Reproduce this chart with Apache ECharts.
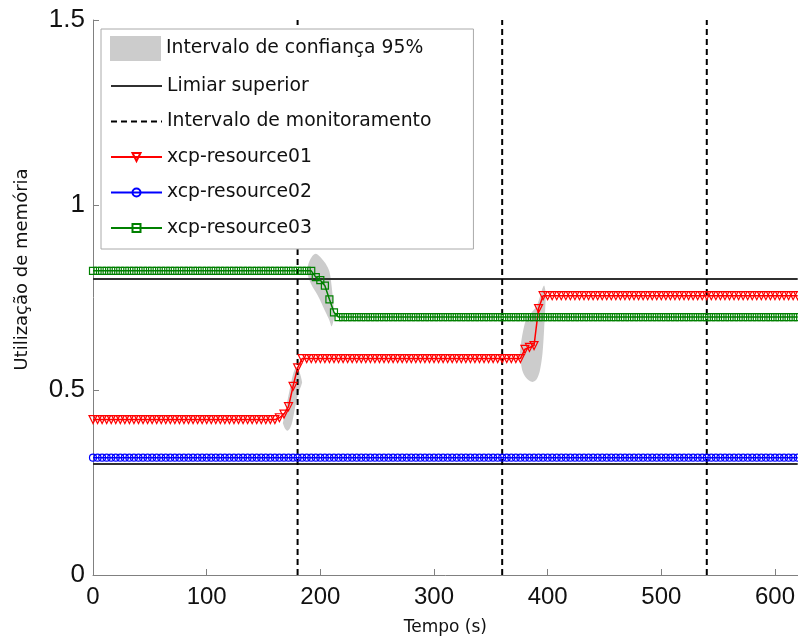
<!DOCTYPE html>
<html><head><meta charset="utf-8">
<script src="https://cdn.jsdelivr.net/npm/echarts@6/dist/echarts.min.js"></script>
<style>html,body{margin:0;padding:0;background:#fff}#c{width:798px;height:641px}</style>
</head><body><div id="c"></div>
<script>
// ---- data ----
const times = [0,4,8,12,16,20,24,28,32,36,
40,44,48,52,56,60,64,68,72,76,
80,84,88,92,96,100,104,108,112,116,
120,124,128,132,136,140,144,148,152,156,
160,164,168,172,176,180,184,188,192,196,
200,204,208,212,216,220,224,228,232,236,
240,244,248,252,256,260,264,268,272,276,
280,284,288,292,296,300,304,308,312,316,
320,324,328,332,336,340,344,348,352,356,
360,364,368,372,376,380,384,388,392,396,
400,404,408,412,416,420,424,428,432,436,
440,444,448,452,456,460,464,468,472,476,
480,484,488,492,496,500,504,508,512,516,
520,524,528,532,536,540,544,548,552,556,
560,564,568,572,576,580,584,588,592,596,
600,604,608,612,616,620];

const resource01 = [0.42,0.42,0.42,0.42,0.42,0.42,0.42,0.42,0.42,0.42,
0.42,0.42,0.42,0.42,0.42,0.42,0.42,0.42,0.42,0.42,
0.42,0.42,0.42,0.42,0.42,0.42,0.42,0.42,0.42,0.42,
0.42,0.42,0.42,0.42,0.42,0.42,0.42,0.42,0.42,0.42,
0.42,0.425,0.435,0.455,0.51,0.56,0.585,0.585,0.585,0.585,
0.585,0.585,0.585,0.585,0.585,0.585,0.585,0.585,0.585,0.585,
0.585,0.585,0.585,0.585,0.585,0.585,0.585,0.585,0.585,0.585,
0.585,0.585,0.585,0.585,0.585,0.585,0.585,0.585,0.585,0.585,
0.585,0.585,0.585,0.585,0.585,0.585,0.585,0.585,0.585,0.585,
0.585,0.585,0.585,0.585,0.585,0.61,0.615,0.62,0.72,0.755,
0.755,0.755,0.755,0.755,0.755,0.755,0.755,0.755,0.755,0.755,
0.755,0.755,0.755,0.755,0.755,0.755,0.755,0.755,0.755,0.755,
0.755,0.755,0.755,0.755,0.755,0.755,0.755,0.755,0.755,0.755,
0.755,0.755,0.755,0.755,0.755,0.755,0.755,0.755,0.755,0.755,
0.755,0.755,0.755,0.755,0.755,0.755,0.755,0.755,0.755,0.755,
0.755,0.755,0.755,0.755,0.755,0.755];

const resource02 = [0.317,0.317,0.317,0.317,0.317,0.317,0.317,0.317,0.317,0.317,
0.317,0.317,0.317,0.317,0.317,0.317,0.317,0.317,0.317,0.317,
0.317,0.317,0.317,0.317,0.317,0.317,0.317,0.317,0.317,0.317,
0.317,0.317,0.317,0.317,0.317,0.317,0.317,0.317,0.317,0.317,
0.317,0.317,0.317,0.317,0.317,0.317,0.317,0.317,0.317,0.317,
0.317,0.317,0.317,0.317,0.317,0.317,0.317,0.317,0.317,0.317,
0.317,0.317,0.317,0.317,0.317,0.317,0.317,0.317,0.317,0.317,
0.317,0.317,0.317,0.317,0.317,0.317,0.317,0.317,0.317,0.317,
0.317,0.317,0.317,0.317,0.317,0.317,0.317,0.317,0.317,0.317,
0.317,0.317,0.317,0.317,0.317,0.317,0.317,0.317,0.317,0.317,
0.317,0.317,0.317,0.317,0.317,0.317,0.317,0.317,0.317,0.317,
0.317,0.317,0.317,0.317,0.317,0.317,0.317,0.317,0.317,0.317,
0.317,0.317,0.317,0.317,0.317,0.317,0.317,0.317,0.317,0.317,
0.317,0.317,0.317,0.317,0.317,0.317,0.317,0.317,0.317,0.317,
0.317,0.317,0.317,0.317,0.317,0.317,0.317,0.317,0.317,0.317,
0.317,0.317,0.317,0.317,0.317,0.317];

const resource03 = [0.822,0.822,0.822,0.822,0.822,0.822,0.822,0.822,0.822,0.822,
0.822,0.822,0.822,0.822,0.822,0.822,0.822,0.822,0.822,0.822,
0.822,0.822,0.822,0.822,0.822,0.822,0.822,0.822,0.822,0.822,
0.822,0.822,0.822,0.822,0.822,0.822,0.822,0.822,0.822,0.822,
0.822,0.822,0.822,0.822,0.822,0.822,0.822,0.822,0.822,0.805,
0.797,0.782,0.745,0.71,0.697,0.697,0.697,0.697,0.697,0.697,
0.697,0.697,0.697,0.697,0.697,0.697,0.697,0.697,0.697,0.697,
0.697,0.697,0.697,0.697,0.697,0.697,0.697,0.697,0.697,0.697,
0.697,0.697,0.697,0.697,0.697,0.697,0.697,0.697,0.697,0.697,
0.697,0.697,0.697,0.697,0.697,0.697,0.697,0.697,0.697,0.697,
0.697,0.697,0.697,0.697,0.697,0.697,0.697,0.697,0.697,0.697,
0.697,0.697,0.697,0.697,0.697,0.697,0.697,0.697,0.697,0.697,
0.697,0.697,0.697,0.697,0.697,0.697,0.697,0.697,0.697,0.697,
0.697,0.697,0.697,0.697,0.697,0.697,0.697,0.697,0.697,0.697,
0.697,0.697,0.697,0.697,0.697,0.697,0.697,0.697,0.697,0.697,
0.697,0.697,0.697,0.697,0.697,0.697];

const upperThreshold = 0.8;
const lowerThreshold = 0.3;
const monitorTimes = [180, 360, 540];
const xRange = [0, 620];

// 95% confidence bands (time, upper, lower)
const ci1X  = [167, 169, 171, 173, 175, 177, 179, 181, 183, 184];
const ci1Up = [0.41, 0.44, 0.47, 0.50, 0.53, 0.552, 0.562, 0.555, 0.535, 0.52];
const ci1Lo = [0.41, 0.395, 0.39, 0.395, 0.41, 0.44, 0.47, 0.495, 0.51, 0.52];
const ci2X  = [188, 190, 193, 196, 199, 202, 205, 208, 210, 212.5];
const ci2Up = [0.822, 0.845, 0.862, 0.868, 0.862, 0.852, 0.84, 0.82, 0.78, 0.70];
const ci2Lo = [0.822, 0.80, 0.78, 0.765, 0.748, 0.728, 0.708, 0.688, 0.672, 0.70];
const ci3X  = [375.5, 377.5, 381, 386, 390, 393, 395.5, 397, 398.5];
const ci3Up = [0.60, 0.645, 0.69, 0.71, 0.725, 0.75, 0.775, 0.782, 0.76];
const ci3Lo = [0.60, 0.555, 0.533, 0.522, 0.528, 0.55, 0.6, 0.67, 0.76];

const yTicks = { min: 0, max: 1.5, interval: 0.5 };

// ---- build ----
const bands = [
  {x: ci1X, up: ci1Up, lo: ci1Lo},
  {x: ci2X, up: ci2Up, lo: ci2Lo},
  {x: ci3X, up: ci3Up, lo: ci3Lo}
];
const pair = (ys) => times.map((t, i) => [t, ys[i]]);
const monitorData = [];
monitorTimes.forEach(t => { monitorData.push([t, yTicks.min], [t, yTicks.max], ['-', '-']); });

const FONT = 'DejaVu Sans';
const HOLLOW = 'rgba(255,255,255,0)';
const chart = echarts.init(document.getElementById('c'));
chart.setOption({
  animation: false,
  backgroundColor: '#fff',
  grid: { left: 93, right: 0, top: 20, bottom: 65, containLabel: false },
  xAxis: {
    type: 'value', min: xRange[0], max: xRange[1], interval: 100,
    axisLine: { lineStyle: { color: '#808080', width: 1 } },
    axisTick: { inside: true, length: 6, lineStyle: { color: '#808080' } },
    splitLine: { show: false },
    axisLabel: { fontFamily: 'Liberation Sans', fontSize: 24, color: '#111', margin: 10 },
    name: 'Tempo (s)', nameLocation: 'middle', nameGap: 44,
    nameTextStyle: { fontFamily: FONT, fontSize: 17, color: '#111' }
  },
  yAxis: {
    type: 'value', min: yTicks.min, max: yTicks.max, interval: yTicks.interval,
    axisLine: { show: true, lineStyle: { color: '#808080', width: 1 } },
    axisTick: { show: true, inside: true, length: 6, lineStyle: { color: '#808080' } },
    splitLine: { show: false },
    axisLabel: { fontFamily: 'Liberation Sans', fontSize: 26, color: '#111', margin: 8 },
    name: 'Utilização de memória', nameLocation: 'middle', nameGap: 62, nameRotate: 90,
    nameTextStyle: { fontFamily: FONT, fontSize: 18, color: '#111', padding: [0, 0, 0, 56] }
  },
  legend: [{
    orient: 'vertical', left: 110, top: 36, padding: 0, z: 8,
    itemWidth: 51, itemHeight: 25,
    textStyle: { fontFamily: FONT, fontSize: 18.8, color: '#111' },
    data: [{ name: 'Intervalo de confiança 95%', icon: 'rect', itemStyle: { color: '#cccccc' } }]
  }, {
    orient: 'vertical', left: 101, top: 29, padding: [47, 42, 11, 9], z: 6,
    backgroundColor: '#fff', borderColor: '#aaaaaa', borderWidth: 1,
    itemWidth: 51, itemHeight: 10, itemGap: 15.5,
    textStyle: { fontFamily: FONT, fontSize: 18.8, color: '#111', lineHeight: 20 },
    data: [
      { name: 'Limiar superior', itemStyle: { opacity: 0 } },
      { name: 'Intervalo de monitoramento', itemStyle: { opacity: 0 } },
      'xcp-resource01', 'xcp-resource02', 'xcp-resource03'
    ]
  }],
  series: [{
    name: 'Intervalo de confiança 95%',
    type: 'custom',
    itemStyle: { color: '#cccccc' },
    data: bands.map((b, i) => [b.x[Math.floor(b.x.length / 2)], b.up[Math.floor(b.x.length / 2)], i]),
    encode: { x: 0, y: 1 },
    renderItem: function (params, api) {
      const b = bands[params.dataIndex];
      const pts = [];
      for (let i = 0; i < b.x.length; i++) pts.push(api.coord([b.x[i], b.up[i]]));
      for (let i = b.x.length - 1; i >= 0; i--) pts.push(api.coord([b.x[i], b.lo[i]]));
      return { type: 'polygon', shape: { points: pts, smooth: 0.3 }, style: { fill: '#cccccc', stroke: null } };
    }
  }, {
    name: 'Limiar superior', type: 'line', symbol: 'none', silent: true,
    data: [[xRange[0], upperThreshold], [xRange[1], upperThreshold]],
    lineStyle: { color: '#303030', width: 2 }, itemStyle: { color: '#303030' }
  }, {
    name: 'Limiar inferior', type: 'line', symbol: 'none', silent: true,
    data: [[xRange[0], lowerThreshold], [xRange[1], lowerThreshold]],
    lineStyle: { color: '#303030', width: 2 }, itemStyle: { color: '#303030' }
  }, {
    name: 'xcp-resource02', type: 'line', data: pair(resource02),
    symbol: 'circle', symbolSize: 7, showAllSymbol: true,
    lineStyle: { color: '#0000ff', width: 1.5 },
    itemStyle: { color: HOLLOW, borderColor: '#0000ff', borderWidth: 1.2 }
  }, {
    name: 'xcp-resource03', type: 'line', data: pair(resource03),
    symbol: 'rect', symbolSize: 7, showAllSymbol: true,
    lineStyle: { color: '#008000', width: 1.5 },
    itemStyle: { color: HOLLOW, borderColor: '#008000', borderWidth: 1.2 }
  }, {
    name: 'xcp-resource01', type: 'line', data: pair(resource01),
    symbol: 'triangle', symbolRotate: 180, symbolSize: 8, showAllSymbol: true,
    lineStyle: { color: '#ff0000', width: 1.5 },
    itemStyle: { color: HOLLOW, borderColor: '#ff0000', borderWidth: 1.2 }
  }, {
    name: 'Intervalo de monitoramento', type: 'line', symbol: 'none', silent: true,
    data: monitorData, connectNulls: false,
    lineStyle: { color: '#000', width: 2, type: [6, 4] }, itemStyle: { color: '#000' }
  }]
});
</script></body></html>
